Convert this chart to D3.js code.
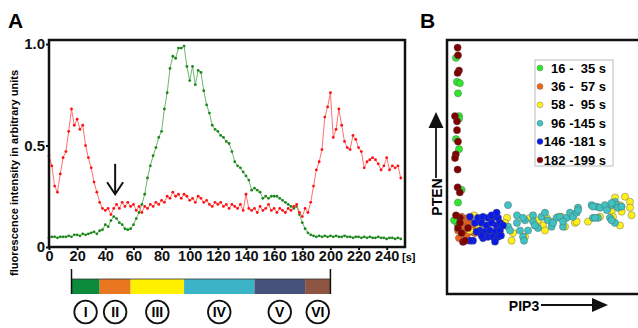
<!DOCTYPE html>
<html>
<head>
<meta charset="utf-8">
<script src="https://cdn.jsdelivr.net/npm/d3@7"></script>
<style>
  body { margin: 0; background: #fff; }
  text { font-family: "Liberation Sans", Arial, sans-serif; font-weight: bold; }
</style>
</head>
<body>
<svg id="fig" width="638" height="328"></svg>
<script>
// sampled every 2 s, from 0 to 250 s
const sampleStep = 2;
const pipValues = [0.45,0.40,0.30,0.27,0.36,0.44,0.47,0.57,0.68,0.60,0.63,0.58,0.60,0.50,0.44,0.39,0.32,0.27,0.22,0.19,
  0.18,0.19,0.16,0.19,0.21,0.19,0.22,0.20,0.22,0.20,0.21,0.18,0.20,0.17,0.20,0.19,0.21,0.20,0.22,0.21,
  0.23,0.22,0.25,0.24,0.27,0.25,0.26,0.24,0.26,0.25,0.23,0.24,0.22,0.25,0.24,0.22,0.23,0.21,0.20,0.22,
  0.21,0.22,0.20,0.21,0.19,0.21,0.20,0.19,0.21,0.18,0.26,0.19,0.18,0.19,0.17,0.20,0.18,0.19,0.21,0.18,
  0.19,0.17,0.19,0.18,0.17,0.19,0.18,0.20,0.21,0.17,0.15,0.19,0.17,0.22,0.30,0.38,0.42,0.48,0.64,0.69,
  0.76,0.54,0.58,0.68,0.60,0.52,0.49,0.48,0.55,0.53,0.49,0.47,0.39,0.42,0.43,0.44,0.43,0.41,0.38,0.40,
  0.44,0.38,0.40,0.39,0.40,0.34];
const ptenValues = [0.045,0.05,0.05,0.045,0.05,0.05,0.05,0.055,0.05,0.06,0.06,0.055,0.065,0.06,0.065,0.07,0.075,0.065,0.08,0.085,
  0.11,0.10,0.13,0.15,0.14,0.12,0.11,0.09,0.085,0.09,0.11,0.14,0.17,0.21,0.26,0.34,0.40,0.45,0.49,0.54,
  0.57,0.68,0.76,0.88,0.94,0.93,0.98,0.98,0.99,0.89,0.82,0.89,0.80,0.87,0.86,0.77,0.70,0.66,0.60,0.58,
  0.57,0.55,0.54,0.52,0.51,0.47,0.42,0.40,0.39,0.37,0.35,0.33,0.28,0.29,0.28,0.27,0.24,0.25,0.24,0.25,
  0.25,0.25,0.24,0.23,0.22,0.21,0.20,0.19,0.20,0.16,0.12,0.09,0.07,0.06,0.055,0.05,0.055,0.05,0.055,0.05,
  0.055,0.05,0.055,0.05,0.05,0.055,0.05,0.05,0.045,0.05,0.05,0.045,0.05,0.045,0.05,0.045,0.045,0.05,0.045,0.045,
  0.04,0.045,0.045,0.04,0.045,0.04];

const xTicks = [0,20,40,60,80,100,120,140,160,180,200,220,240];
const yTicks = [0, 0.5, 1.0];

// stages (s)
const stageBounds = [16, 36, 58, 96, 146, 182, 200];
const stageColors = ["#0c8b3d", "#e8771f", "#fff000", "#3ab4c6", "#46527c", "#8e5542"];
const stageNames = ["I", "II", "III", "IV", "V", "VI"];

const arrowAt = {t: 47, from: 0.41, to: 0.26};

// panel B: [PIP3, PTEN] in arbitrary units
const stage16 = [[4.5,93],[5,83.5],[6.4,83],[5.5,79],[6,70],[6,69],[4.5,61],[6,57],[7.3,41],[5.5,36],[5,28],[3.5,29]];
const stage36 = [[7.3,30.4],[9,28.5],[11.5,28],[13,27],[5.5,25],[8,24.5],[12.3,24.5],[14,24],[9.8,23],[7.3,27],[14.8,26],[10.5,30],[6,22]];
const stage58 = [[11.5,25],[13.5,31],[16,26.5],[30,30],[29,28],[33,24],[32.3,21],[39,22.5],[41.5,30],[44,27],[48,27],[49,25],
  [53,28.5],[57.3,30.4],[59,26.5],[64,28],[70.5,28.5],[76.5,30.4],[82.3,32.4],[83,30.4],[87.3,32.4],[89,38.3],[91.5,36.3],
  [91.5,34],[92.3,31],[86.5,35],[80.5,34],[84,38],[86.5,27],[64.8,28.5],[55.5,30.4],[49.8,30],[45.5,29]];
const stage96 = [[30.5,35],[30.5,26.5],[31.5,25],[35,28],[36.5,25],[38,22.5],[40.5,25],[43,31],[43,28.5],[45.5,26],[47.3,30.4],
  [49,32],[50.5,29],[52.3,26.5],[54.8,30],[56.5,30.4],[58,26.5],[59.8,30],[61.5,32],[63,30.4],[65.5,34],[64.8,32],[72.3,35],
  [74.8,34.4],[75.5,30],[76.5,34],[79,35],[82.3,35],[84,36.3],[84.8,35],[85.5,34],[81.5,30],[84,28],[73,30],[35,31],[39,29],
  [38.5,21],[38,30],[44,27],[53,28],[58,28.5],[65.5,33],[73,34.4],[74,30],[80,33],[82.3,35.8],[87.3,34.4],[82.3,29]];
const stage146 = [[11.5,30.4],[14,28],[15.5,30],[18,30.4],[20.5,30],[23,30.4],[25.5,30],[17.3,28],[19.8,27],[22.3,28],[24.8,27],
  [26.5,28],[16.5,25],[19,24.5],[21.5,25],[24,24.5],[26.5,25],[20.5,22.5],[23,22.5],[25.5,22.5],[18,22],[13,21],[11.5,21],
  [24,20.6],[14.8,24.5],[17.3,23],[22.3,31],[24.8,32],[28,27],[27,23]];
const stage182 = [[5.3,97],[5.5,94],[6,88],[5.3,87],[4,70],[5,68],[5,64.5],[5.5,60],[4.4,55],[4,53.5],[5.3,49],[5.3,42],[6.4,40],
  [6.5,30],[5.5,26],[7.3,24],[8,20.5],[9,21],[10.5,26],[6.5,28],[4.5,31]];

const legendLabels = ["16 -  35 s", "36 -  57 s", "58 -  95 s", "96 -145 s", "146 -181 s", "182 -199 s"];
const dotColors = ["#2ee82e", "#f06418", "#fff01a", "#3fc2c2", "#0a1ae6", "#800000"];

const svg = d3.select("#fig");

// ---------- panel A ----------
const x = d3.scaleLinear().domain([0, 253]).range([49, 405]);
const y = d3.scaleLinear().domain([0, 1.02]).range([247, 40]);

const pip = pipValues.map((v, i) => ({t: i * sampleStep, v: v}));
const pten = ptenValues.map((v, i) => ({t: i * sampleStep, v: v}));

const line = d3.line().x(d => x(d.t)).y(d => y(d.v));

function drawSeries(data, lineColor, dotColor) {
  svg.append("path")
    .datum(data)
    .attr("d", line)
    .attr("fill", "none")
    .attr("stroke", lineColor)
    .attr("stroke-width", 1);
  svg.append("g").selectAll("circle")
    .data(data)
    .enter().append("circle")
    .attr("cx", d => x(d.t))
    .attr("cy", d => y(d.v))
    .attr("r", 1.4)
    .attr("fill", dotColor);
}
drawSeries(pten, "#6cb86c", "#1b861b");
drawSeries(pip, "#ff7070", "#ff1010");

svg.append("rect")
  .attr("x", x(0)).attr("y", y(1.02))
  .attr("width", x(253) - x(0)).attr("height", y(0) - y(1.02))
  .attr("fill", "none").attr("stroke", "#111").attr("stroke-width", 2.5);

const xAxis = svg.append("g")
  .attr("transform", "translate(0," + y(0) + ")")
  .call(d3.axisBottom(x).tickValues(xTicks).tickSize(3).tickPadding(1));
const yAxis = svg.append("g")
  .attr("transform", "translate(" + x(0) + ",0)")
  .call(d3.axisLeft(y).tickValues(yTicks).tickSize(3).tickPadding(1)
    .tickFormat(d => d === 0 ? "0" : d3.format(".1f")(d)));
[xAxis, yAxis].forEach(g => {
  g.select(".domain").remove();
  g.selectAll("line").attr("stroke", "#111").attr("stroke-width", 2);
  g.selectAll("text").attr("font-size", 15).attr("fill", "#111")
    .style("font-family", '"Liberation Sans", Arial, sans-serif');
});
xAxis.selectAll("text").attr("font-size", 14.5);

svg.append("text").attr("x", 402).attr("y", 261).attr("font-size", 11).text("[s]");

svg.append("text")
  .attr("transform", "translate(18,173) rotate(-90)")
  .attr("text-anchor", "middle")
  .attr("font-size", 11)
  .text("fluorescence intensity in arbitrary units");

// arrow
const ax = x(arrowAt.t);
svg.append("line")
  .attr("x1", ax).attr("x2", ax)
  .attr("y1", y(arrowAt.from)).attr("y2", y(arrowAt.to))
  .attr("stroke", "#111").attr("stroke-width", 2);
svg.append("path")
  .attr("d", "M" + (ax - 8) + "," + (y(arrowAt.to) - 12) + "L" + ax + "," + y(arrowAt.to) + "L" + (ax + 8) + "," + (y(arrowAt.to) - 12))
  .attr("fill", "none").attr("stroke", "#111").attr("stroke-width", 2);

// stage bar
const stages = stageNames.map((n, i) => ({name: n, start: stageBounds[i], end: stageBounds[i + 1], color: stageColors[i]}));
svg.append("g").selectAll("rect")
  .data(stages)
  .enter().append("rect")
  .attr("x", d => x(d.start))
  .attr("width", d => x(d.end) - x(d.start))
  .attr("y", 279).attr("height", 15)
  .attr("fill", d => d.color);
svg.append("line")
  .attr("x1", x(stageBounds[0])).attr("x2", x(stageBounds[6]))
  .attr("y1", 279).attr("y2", 279)
  .attr("stroke", "#333").attr("stroke-width", 0.8);
[stageBounds[0], stageBounds[6]].forEach(t => {
  svg.append("line")
    .attr("x1", x(t)).attr("x2", x(t)).attr("y1", 269).attr("y2", 294)
    .attr("stroke", "#111").attr("stroke-width", 1.5);
});
const marks = svg.append("g").selectAll("g")
  .data(stages)
  .enter().append("g")
  .attr("transform", d => "translate(" + x((d.start + d.end) / 2) + ",312)");
marks.append("circle").attr("r", 11.3).attr("fill", "#fff").attr("stroke", "#111").attr("stroke-width", 1.8);
marks.append("text").attr("text-anchor", "middle").attr("dy", 5).attr("font-size", 14).text(d => d.name);

svg.append("text").attr("x", 8).attr("y", 28).attr("font-size", 21).text("A");

// ---------- panel B ----------
const bx = d3.scaleLinear().domain([0, 100]).range([447, 647]);
const by = d3.scaleLinear().domain([0, 100]).range([294, 40]);

svg.append("text").attr("x", 420).attr("y", 28).attr("font-size", 21).text("B");

const groups = [stage16, stage36, stage58, stage96, stage146, stage182];
groups.forEach((pts, i) => {
  svg.append("g").selectAll("circle")
    .data(pts)
    .enter().append("circle")
    .attr("cx", d => bx(d[0]))
    .attr("cy", d => by(d[1]))
    .attr("r", 3.6)
    .attr("fill", dotColors[i])
    .attr("stroke", "#555")
    .attr("stroke-width", 0.4);
});

svg.append("rect")
  .attr("x", bx(0)).attr("y", by(100))
  .attr("width", bx(100) - bx(0)).attr("height", by(0) - by(100))
  .attr("fill", "none").attr("stroke", "#111").attr("stroke-width", 2.5);

// legend
const legend = svg.append("g");
legend.append("rect").attr("x", 535).attr("y", 60).attr("width", 78).attr("height", 106)
  .attr("fill", "#fff").attr("stroke", "#bbb").attr("stroke-width", 1);
legendLabels.forEach((lab, i) => {
  const ly = 68 + i * 18.4;
  legend.append("circle").attr("cx", 540).attr("cy", ly).attr("r", 3)
    .attr("fill", dotColors[i]).attr("stroke", "#666").attr("stroke-width", 0.4);
  legend.append("text").attr("x", 606).attr("y", ly + 4.5)
    .attr("text-anchor", "end").attr("font-size", 13)
    .style("white-space", "pre").text(lab);
});

// axis labels with arrows
svg.append("text")
  .attr("transform", "translate(442,197) rotate(-90)")
  .attr("text-anchor", "middle").attr("font-size", 14).text("PTEN");
svg.append("line").attr("x1", 436).attr("x2", 436).attr("y1", 178).attr("y2", 125)
  .attr("stroke", "#111").attr("stroke-width", 1.8);
svg.append("path").attr("d", "M436,112L443.5,128L428.5,128Z").attr("fill", "#111");

svg.append("text").attr("x", 524).attr("y", 311)
  .attr("text-anchor", "middle").attr("font-size", 14).text("PIP3");
svg.append("line").attr("x1", 541).attr("x2", 595).attr("y1", 305).attr("y2", 305)
  .attr("stroke", "#111").attr("stroke-width", 1.8);
svg.append("path").attr("d", "M608,305L592,298L592,312Z").attr("fill", "#111");
</script>
</body>
</html>
